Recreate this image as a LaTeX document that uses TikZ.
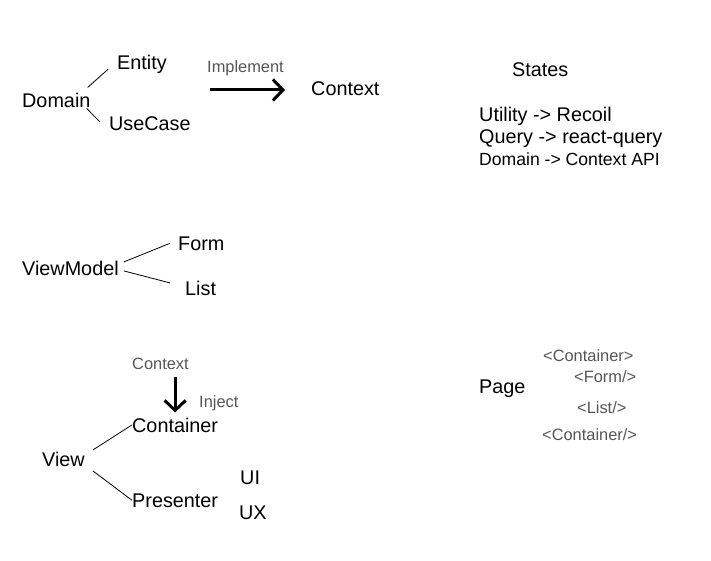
\documentclass[tikz,border=0pt]{standalone}
\usepackage{fontspec}
\setmainfont{Liberation Sans}
\usepackage{tikz}
\usetikzlibrary{arrows.meta, calc, positioning}
\definecolor{notegray}{HTML}{555555}

\begin{document}
\begin{tikzpicture}[x=1pt, y=-1pt,
  every node/.style={inner sep=0pt, anchor=base west},
  lbl/.style={font=\fontsize{19.8}{22}\selectfont},
  small/.style={font=\fontsize{17.6}{20}\selectfont},
  note/.style={text=notegray, font=\fontsize{16.4}{19}\selectfont},
  link/.style={line width=0.8pt},
  bigarrow/.style={line width=3pt, -{Straight Barb[length=10pt, width=21pt, line width=3pt]}}]
\useasboundingbox (0,0) rectangle (711,561);

% Domain layer
\node (Domain) [lbl] at (22,108) {Domain};
\node (Entity) [lbl] at (117,70) {Entity};
\node (UseCase) [lbl] at (109,131) {UseCase};
\node (Impl) [note] at (207,73) {Implement};
\node (Context) [lbl] at (311,96) {Context};
\coordinate (implStart) at (210,90);

% States
\node (States) [lbl] at (512,77) {States};
\node (Utility) [lbl] at (479,122) {Utility -> Recoil};
\node (Query) [lbl] at (479,144) {Query -> react-query};
\node (DomCtx) [small] at (479,166) {Domain -> Context API};

% ViewModel
\node (ViewModel) [lbl] at (22,275) {ViewModel};
\node (Form) [lbl] at (178,250) {Form};
\node (List) [lbl] at (185,295) {List};

% View
\node (CtxNote) [note] at (132,369) {Context};
\node (Inject) [note] at (199,407) {Inject};
\node (Container) [lbl] at (132,432) {Container};
\node (View) [lbl] at (42,466) {View};
\node (Presenter) [lbl] at (132,507) {Presenter};
\node (UI) [lbl] at (240,484) {UI};
\node (UX) [lbl] at (239,519) {UX};

% Page
\node (Page) [lbl] at (479,393) {Page};
\node (tagOpen) [note] at (543,361) {<Container>};
\node (tagForm) [note] at (574,382) {<Form/>};
\node (tagList) [note] at (577,413) {<List/>};
\node (tagClose) [note] at (542,440) {<Container/>};

% Links
\draw[link] ([shift={(-3,-6)}]Domain.north east) -- ([shift={(-9,-5)}]Entity.south west);
\draw[link] ([xshift=-4]Domain.south east) -- ([shift={(-9,5)}]UseCase.north west);
\draw[link] ([shift={(5,-6)}]ViewModel.east) -- ([xshift=-8]Form.west);
\draw[link] ([shift={(5,3)}]ViewModel.east) -- ([shift={(-15,-5)}]List.west);
\draw[link] ([shift={(8,-9)}]View.east) -- (Container.west);
\draw[link] ([shift={(8,12)}]View.east) -- (Presenter.west);

% Arrows
\draw[bigarrow, shorten >=26pt] (implStart) -- (Context.west |- implStart);
\draw[bigarrow, shorten <=8pt, shorten >=5pt] (CtxNote.south -| Container.north) -- (Container.north);
\end{tikzpicture}
\end{document}
